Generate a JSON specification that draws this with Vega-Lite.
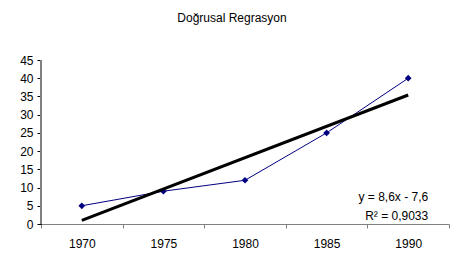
{
  "$schema": "https://vega.github.io/schema/vega-lite/v6.json",
  "width": 408,
  "height": 164,
  "autosize": {"type": "none"},
  "padding": {"left": 41, "top": 60, "right": 15, "bottom": 48},
  "background": "white",
  "title": {
    "text": "Doğrusal Regrasyon",
    "font": "Liberation Sans",
    "fontSize": 12,
    "fontWeight": "normal",
    "color": "#000000",
    "anchor": "middle",
    "offset": 29,
    "dx": -13
  },
  "config": {
    "view": {"stroke": null},
    "axis": {
      "labelFont": "Liberation Sans",
      "labelFontSize": 12,
      "labelColor": "#000000",
      "grid": false,
      "title": null
    }
  },
  "datasets": {
    "series": [
      {"year": "1970", "value": 5},
      {"year": "1975", "value": 9},
      {"year": "1980", "value": 12},
      {"year": "1985", "value": 25},
      {"year": "1990", "value": 40}
    ],
    "trend": [
      {"year": "1970", "value": 1.0},
      {"year": "1990", "value": 35.4}
    ],
    "labels": [
      {"year": "1990", "value": 7.5, "label": "y = 8,6x - 7,6"},
      {"year": "1990", "value": 2.3, "label": "R² = 0,9033"}
    ],
    "frameTop": [{"value": 45}],
    "frameRight": [{"year": "1990"}]
  },
  "encoding": {
    "x": {
      "field": "year",
      "type": "ordinal",
      "sort": ["1970", "1975", "1980", "1985", "1990"],
      "scale": {"domain": ["1970", "1975", "1980", "1985", "1990"], "paddingInner": 0, "paddingOuter": 0},
      "axis": {
        "labelAngle": 0,
        "tickBand": "extent",
        "tickSize": 4,
        "tickColor": "#808080",
        "domainColor": "#808080",
        "labelPadding": 10
      }
    },
    "y": {
      "field": "value",
      "type": "quantitative",
      "scale": {"domain": [0, 45], "nice": false},
      "axis": {
        "values": [0, 5, 10, 15, 20, 25, 30, 35, 40, 45],
        "tickSize": 4,
        "tickColor": "#000000",
        "domainColor": "#000000",
        "labelPadding": 4
      }
    }
  },
  "layer": [
    {
      "data": {"name": "frameTop"},
      "mark": {"type": "rule", "color": "#808080", "strokeWidth": 2},
      "encoding": {"y": {"field": "value", "type": "quantitative"}}
    },
    {
      "data": {"name": "frameRight"},
      "mark": {"type": "rule", "color": "#808080", "strokeWidth": 2},
      "encoding": {"x": {"field": "year", "type": "ordinal", "bandPosition": 1}}
    },
    {
      "data": {"name": "series"},
      "mark": {"type": "line", "color": "#000080", "strokeWidth": 1,
        "point": {"shape": "diamond", "size": 45, "filled": true, "color": "#000080"}},
      "encoding": {
        "x": {"field": "year", "type": "ordinal"},
        "y": {"field": "value", "type": "quantitative"}
      }
    },
    {
      "data": {"name": "trend"},
      "mark": {"type": "line", "color": "#000000", "strokeWidth": 3},
      "encoding": {
        "x": {"field": "year", "type": "ordinal"},
        "y": {"field": "value", "type": "quantitative"}
      }
    },
    {
      "data": {"name": "labels"},
      "mark": {"type": "text", "align": "right", "baseline": "middle", "dx": 20, "font": "Liberation Sans", "fontSize": 12, "color": "#000000"},
      "encoding": {
        "x": {"field": "year", "type": "ordinal"},
        "y": {"field": "value", "type": "quantitative"},
        "text": {"field": "label"}
      }
    }
  ]
}
